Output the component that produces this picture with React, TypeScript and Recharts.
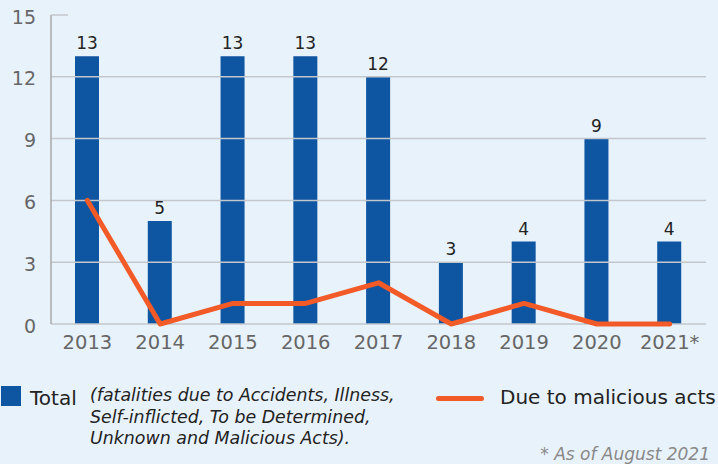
import React from "react";
import { ComposedChart, Bar, Line, XAxis, YAxis, ReferenceLine, LabelList } from "recharts";

const years = ["2013", "2014", "2015", "2016", "2017", "2018", "2019", "2020", "2021*"];
const totals = [13, 5, 13, 13, 12, 3, 4, 9, 4];
const malicious = [6, 0, 1, 1, 2, 0, 1, 0, 0];
const yTicks = [0, 3, 6, 9, 12, 15];
const gridValues = [0, 3, 6, 9, 12];

const data = years.map((y, i) => ({ year: y, total: totals[i], malicious: malicious[i] }));

const FONT = "'DejaVu Sans', sans-serif";
const BLUE = "#0e55a2";
const ORANGE = "#f25a28";
const GRID = "#c3c7cb";

const YTick = (props: any) => {
  const { x, y, payload } = props;
  return (
    <g>
      {payload.value === 15 && <line x1={51} x2={68} y1={y} y2={y} stroke={GRID} strokeWidth={1.5} />}
      <text x={x} y={y} dy={8.5} textAnchor="end" fill="#666" fontSize={19} fontFamily={FONT}>
        {payload.value}
      </text>
    </g>
  );
};

const XTick = (props: any) => {
  const { x, y, payload } = props;
  return (
    <text x={x} y={y} dy={14} textAnchor="middle" fill="#666" fontSize={19.5} fontFamily={FONT}>
      {payload.value}
    </text>
  );
};

export default function App() {
  return (
    <div style={{ position: "absolute", left: 0, top: 0, width: 718, height: 464, background: "#e8f2fb", fontFamily: FONT, overflow: "hidden" }}>
      <ComposedChart width={718} height={360} data={data} margin={{ top: 15, right: 12, bottom: 0, left: 0 }}>
        <XAxis
          dataKey="year"
          tickLine={false}
          axisLine={false}
          height={36}
          tickSize={0}
          tickMargin={11}
          tick={<XTick />}
        />
        <YAxis
          domain={[0, 15]}
          ticks={yTicks}
          width={51}
          tickLine={false}
          tickSize={0}
          tickMargin={15}
          axisLine={{ stroke: "#aaaaaa", strokeWidth: 1.5 }}
          tick={<YTick />}
        />
        {gridValues.map((v) => (
          <ReferenceLine key={v} y={v} stroke={GRID} strokeWidth={1.5} />
        ))}
        <Bar dataKey="total" fill={BLUE} barSize={24} isAnimationActive={false}>
          <LabelList dataKey="total" position="top" offset={7} fill="#222" fontSize={17} fontFamily={FONT} />
        </Bar>
        <Line
          dataKey="malicious"
          stroke={ORANGE}
          strokeWidth={5}
          dot={false}
          type="linear"
          strokeLinejoin="round"
          strokeLinecap="round"
          isAnimationActive={false}
        />
      </ComposedChart>

      <div style={{ position: "absolute", left: 1, top: 386, width: 20, height: 20, background: BLUE }} />
      <div style={{ position: "absolute", left: 30, top: 386, fontSize: 20, lineHeight: "normal", color: "#222", whiteSpace: "nowrap" }}>Total</div>
      <div style={{ position: "absolute", left: 90, top: 385, fontSize: 17.4, fontStyle: "italic", color: "#222", lineHeight: "21.5px", whiteSpace: "nowrap" }}>
        (fatalities due to Accidents, Illness,
        <br />
        Self-inflicted, To be Determined,
        <br />
        Unknown and Malicious Acts).
      </div>
      <div style={{ position: "absolute", left: 436, top: 396, width: 48, height: 5, borderRadius: 2.5, background: ORANGE }} />
      <div style={{ position: "absolute", left: 500, top: 385, fontSize: 20, lineHeight: "normal", color: "#222", whiteSpace: "nowrap" }}>Due to malicious acts</div>
      <div style={{ position: "absolute", right: 8, top: 444, fontSize: 17, lineHeight: "normal", fontStyle: "italic", color: "#888", whiteSpace: "nowrap" }}>* As of August 2021</div>
    </div>
  );
}
